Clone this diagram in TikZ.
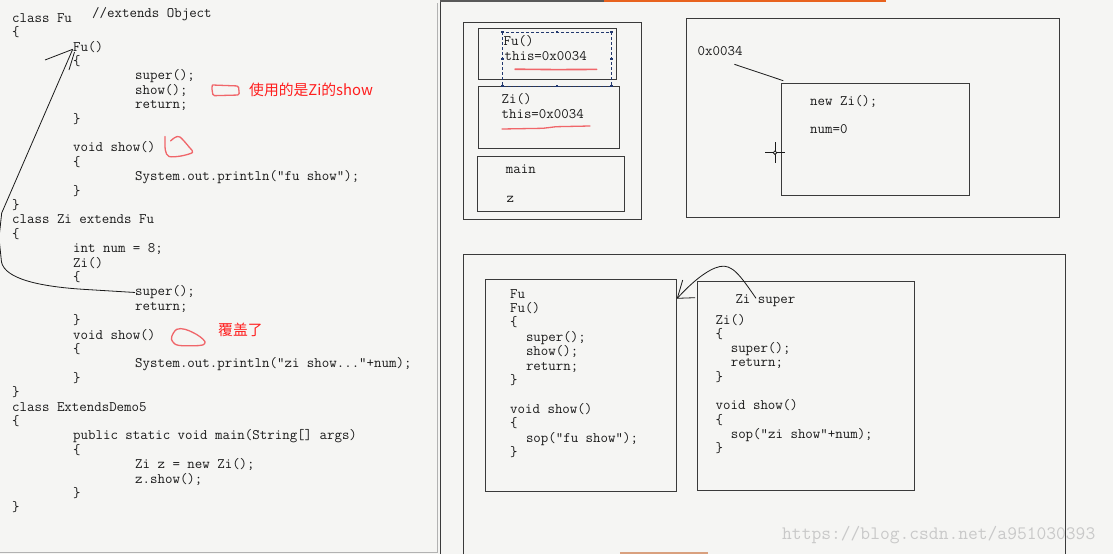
\documentclass[tikz,border=0pt]{standalone}
\usepackage{fontspec}
\newfontfamily\cjk{Noto Sans CJK SC}
\definecolor{bg}{HTML}{F5F5F3}
\definecolor{ink}{HTML}{1A1A1A}
\definecolor{frame}{HTML}{3A3A3A}
\definecolor{pen}{HTML}{F0666A}
\definecolor{redtxt}{HTML}{FF1E1E}
\definecolor{navy}{HTML}{22386E}
\definecolor{wm}{HTML}{C9C9C9}
\definecolor{barorange}{HTML}{E8621E}
\definecolor{bartan}{HTML}{D9A07E}
\tikzset{
  code/.style={anchor=base west, inner sep=0pt, font=\fontsize{14.5}{14.5}\selectfont\ttfamily, text=ink},
  note/.style={anchor=base west, inner sep=0pt, font=\fontsize{14.8}{14.8}\selectfont\cjk, text=redtxt},
  box/.style={draw=frame, line width=0.9pt, anchor=north west, inner sep=0pt, outer sep=0pt},
  wire/.style={draw=ink, line width=0.8pt},
  penline/.style={draw=pen, line width=1.3pt, line cap=round, line join=round},
  handle/.style={fill=navy, minimum size=2.6pt, inner sep=0pt},
}
\begin{document}
\begin{tikzpicture}[x=1pt,y=-1pt]
\useasboundingbox (0,0) rectangle (1113,554);
\fill[bg] (0,0) rectangle (1113,554);
% window artefacts
\fill[black!65] (440,0) rectangle (604,1.6);
\fill[barorange] (604,0) rectangle (886,1.6);
\fill[bartan] (620,552.4) rectangle (708,554);
\draw[black!30, line width=0.8pt] (437,3) -- (437,552.5) -- (0,552.5);
\draw[frame, line width=1pt] (440.5,2) -- (440.5,554);

% ---------- left panel code ----------
\node[code] at (12,22.3) {class Fu};
\node[code] at (92,17.8) {//extends Object};
\node[code] at (12,36.7) {\{};
\node[code] (fuctor) at (73,51.1) {Fu()};
\node[code] at (73,65.5) {\{};
\node[code] at (135,79.9) {super();};
\node[code] (fushowcall) at (135,94.3) {show();};
\node[code] at (135,108.7) {return;};
\node[code] at (73,123.1) {\}};
\node[code] (fushow) at (73,151.9) {void show()};
\node[code] at (73,166.3) {\{};
\node[code] at (135,180.7) {System.out.println("fu show");};
\node[code] at (73,195.1) {\}};
\node[code] at (12,209.5) {\}};
\node[code] at (12,223.9) {class Zi extends Fu};
\node[code] at (12,238.3) {\{};
\node[code] at (73,252.7) {int num = 8;};
\node[code] at (73,267.1) {Zi()};
\node[code] at (73,281.5) {\{};
\node[code] (zisuper) at (135,295.9) {super();};
\node[code] at (135,310.3) {return;};
\node[code] at (73,324.7) {\}};
\node[code] (zishow) at (73,339.1) {void show()};
\node[code] at (73,353.5) {\{};
\node[code] at (135,367.9) {System.out.println("zi show..."+num);};
\node[code] at (73,382.3) {\}};
\node[code] at (12,396.7) {\}};
\node[code] at (12,411.1) {class ExtendsDemo5};
\node[code] at (12,425.5) {\{};
\node[code] at (73,439.9) {public static void main(String[] args)};
\node[code] at (73,454.3) {\{};
\node[code] at (135,468.7) {Zi z = new Zi();};
\node[code] at (135,483.1) {z.show();};
\node[code] at (73,497.5) {\}};
\node[code] at (12,511.9) {\}};

% red notes
\node[note] (note1) at (249,95.5) {使用的是Zi的show};
\node[note] (note2) at (218,335) {覆盖了};
\draw[penline, rounded corners=1.5pt] (212.5,85) -- (238.5,86) -- (239.3,95) -- (213,95.7) -- (211.7,87.3) -- (212.5,85);
\draw[penline] plot[smooth, tension=0.5] coordinates {(165,136.5) (165.3,150) (169,156.5) (181,156) (192.5,152.5) (189.5,147.5) (180,137) (175,137.5) (170.5,141)};
\draw[penline] plot[smooth cycle, tension=0.6] coordinates {(176.7,329.3) (185,329.3) (193.3,332.7) (200,336.7) (205,341.7) (202.7,345) (193.3,345.7) (178.3,345.3) (172.7,341.7) (171.7,336.7)};

% arrow from Zi super() to Fu()
\coordinate (tipA) at (72.7,49.3);
\coordinate (bendA) at (1.7,213);
\coordinate (bendB) at (1.5,262);
\draw[wire] (zisuper.west) -- (83,289.3) .. controls (40,286.5) and (5,279) .. (bendB) -- (-1,238) -- (bendA) -- (tipA);
\draw[wire] (45,60) -- (tipA);
\draw[wire] (69,70) -- (74.5,52);

% ---------- right panel: stack and heap ----------
\node[box, minimum width=178, minimum height=197] (stack) at (463.6,22.7) {};
\node[box, minimum width=137.4, minimum height=51] (fuframe) at (478.6,28.3) {};
\node[box, minimum width=140.8, minimum height=62.3] (ziframe) at (478.6,86) {};
\node[box, minimum width=147.2, minimum height=55] (mainframe) at (477.3,156.7) {};
\draw[navy, line width=0.8pt, dash pattern=on 3pt off 2pt] (502.2,32) rectangle (611.7,86);
\foreach \p in {(502.2,32),(557,32),(611.7,32),(611.7,59),(611.7,86),(557,86),(502.2,86),(502.2,59)}
  \node[handle] at \p {};
\node[code] at (503.5,45.7) {Fu()};
\node[code] at (504.4,60.7) {this=0x0034};
\node[code] at (501.4,103) {Zi()};
\node[code] at (501.4,118) {this=0x0034};
\node[code] at (505.7,173.5) {main};
\node[code] at (506.5,202.8) {z};
\draw[penline, line width=1.6pt] (515,69.2) -- (556,69.6) -- (596.6,69.4);
\draw[penline] (502,129) -- (543,128.3) -- (556,126.7) -- (590,126);

\node[box, minimum width=373.3, minimum height=199] (heap) at (686,18.3) {};
\node[box, minimum width=187.6, minimum height=111.7] (heapobj) at (781.6,83.3) {};
\node[code] (addr) at (697.5,55.7) {0x0034};
\node[code] at (810,105.7) {new Zi();};
\node[code] at (810,133.7) {num=0};
\coordinate (addrlink) at (734.4,64.3);
\draw[wire] (addrlink) -- ([xshift=1.7pt,yshift=2.6pt]heapobj.north west);
% cursor
\draw[ink, line width=0.9pt] (765,152.7) -- (785,152.7) (775,142.3) -- (775,162.7);
\draw[ink, fill=bg, line width=0.8pt] (775,152.7) circle (1.8);

% ---------- right panel: method frames ----------
\draw[frame, line width=0.9pt] (463.2,554) -- (463.2,254.7) -- (1065.3,254.7) -- (1065.3,554);
\node[box, minimum width=191, minimum height=212] (fubox) at (485.5,279) {};
\node[box, minimum width=217.2, minimum height=209] (zibox) at (697.5,281) {};

\node[code] at (510,298) {Fu};
\node[code] at (510,312.4) {Fu()};
\node[code] at (510,326.8) {\{};
\node[code] at (525.8,341.2) {super();};
\node[code] at (525.8,355.6) {show();};
\node[code] at (525.8,370) {return;};
\node[code] at (510,384.4) {\}};
\node[code] at (510,413.2) {void show()};
\node[code] at (510,427.6) {\{};
\node[code] at (525.8,442) {sop("fu show");};
\node[code] at (510,456.4) {\}};

\node[code] (zisuperlabel) at (735.3,303.3) {Zi super};
\node[code] at (715.5,324) {Zi()};
\node[code] at (715.5,338.3) {\{};
\node[code] at (730.6,352.6) {super();};
\node[code] at (730.6,366.9) {return;};
\node[code] at (715.5,381.2) {\}};
\node[code] at (715.5,409.8) {void show()};
\node[code] at (715.5,424.1) {\{};
\node[code] at (730.6,438.4) {sop("zi show"+num);};
\node[code] at (715.5,452.7) {\}};

\coordinate (arcstart) at (756,298.3);
\coordinate (tipB) at (677.3,298.3);
\draw[wire] (arcstart) .. controls (740,275) and (732,264) .. (720,266.5) .. controls (708,269) and (692,282) .. (tipB);
\draw[wire] (tipB) -- (682.7,280);
\draw[wire] (tipB) -- (695,297.7);

% watermark
\node[anchor=base west, inner sep=0pt, font=\fontsize{19}{19}\selectfont\ttfamily, text=wm] at (782,539) {https://blog.csdn.net/a951030393};
\end{tikzpicture}
\end{document}
